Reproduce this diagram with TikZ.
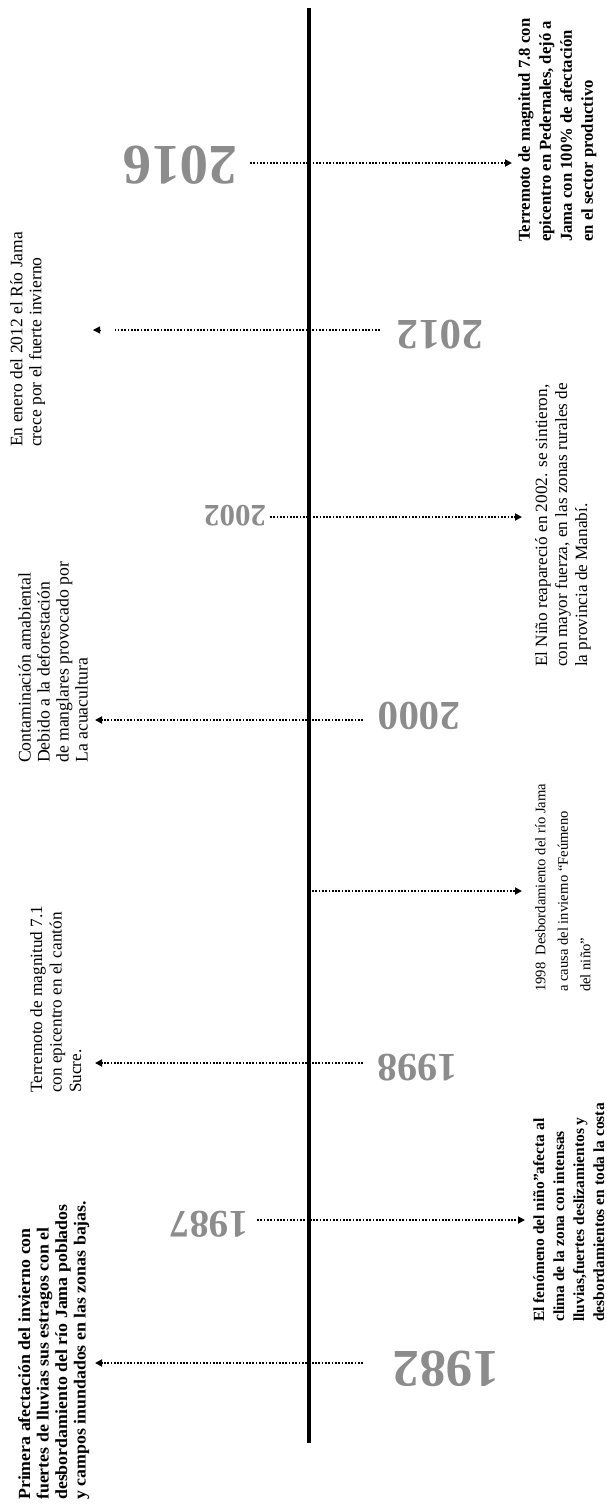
\documentclass[tikz,border=0pt]{standalone}
\usepackage{fontspec}
\setmainfont{Liberation Serif}
\newfontfamily\wideserif[FakeStretch=1.05]{Liberation Serif}
\usetikzlibrary{arrows.meta}
\definecolor{yeargray}{HTML}{8C8C8C}
\begin{document}
\begin{tikzpicture}[x=1pt,y=-1pt,
  yearlbl/.style={text=yeargray, font=\bfseries\fontsize{#1}{#1}\selectfont, rotate=180, inner sep=0pt},
  evt/.style={rotate=90, anchor=north west, inner sep=0pt, align=left, text=black},
  dotline/.style={line width=2.1pt, dash pattern=on 1.7pt off 1.6pt},
  dotarrow/.style={dotline, -{Triangle[length=7pt,width=7pt]}},
  lonetip/.style={line width=0.5pt, -{Triangle[length=7pt,width=7pt]}},
  mainline/.style={line width=4.5pt, black}]
\useasboundingbox (0,0) rectangle (607,1508);

% main line
\coordinate (top) at (309,8);
\coordinate (bot) at (309,1443);
\draw[mainline] (top) -- (bot);

% years
\node[yearlbl=57] (y2016) at (180,165) {2016};
\node[yearlbl=43] (y2012) at (440,335) {2012};
\node[yearlbl=31] (y2002) at (235,516) {2002};
\node[yearlbl=41] (y2000) at (419,716) {2000};
\node[yearlbl=40] (y1998) at (417,1068) {1998};
\node[yearlbl=39] (y1987) at (209,1224) {1987};
\node[yearlbl=53] (y1982) at (446,1369) {1982};

% texts
\node[evt, font=\bfseries\fontsize{16.7}{21}\selectfont] (t2016) at (518,242)
  {Terremoto de magnitud 7.8 con\\epicentro en Pedernales, dejó a\\Jama con 100\% de afectación\\en el sector productivo};
\node[evt, font=\fontsize{17.5}{19}\selectfont] (t2012) at (10,447)
  {En enero del 2012 el Río Jama\\crece por el fuerte invierno};
\node[evt, font=\fontsize{17.2}{20}\selectfont] (t2002) at (535,667)
  {El Niño reapareció en 2002. se sintieron,\\con mayor fuerza, en las zonas rurales de\\la provincia de Manabí.};
\node[evt, font=\fontsize{17.7}{19}\selectfont] (t2000) at (18,763)
  {Contaminación amabiental\\Debido a la deforestación\\de manglares provocado por\\La acuacultura};
\node[evt, font=\fontsize{14.6}{22.5}\selectfont] (t1998r) at (535,992)
  {1998\ \ Desbordamiento del río Jama\\a causa del invierno “Feúmeno\\del niño”};
\node[evt, font=\fontsize{17.2}{19.5}\selectfont] (t1998) at (30,1093)
  {Terremoto de magnitud 7.1\\con epicentro en el cantón\\Sucre.};
\node[evt, font=\bfseries\fontsize{15.5}{20}\selectfont] (t1987) at (533,1322)
  {El fenómeno del niño”afecta al\\clima de la zona con intensas\\lluvias,fuertes deslizamientos y\\desbordamientos en toda la costa};
\node[evt, font=\wideserif\bfseries\fontsize{17}{18.5}\selectfont] (t1982) at (18,1500)
  {Primera afectación del invierno con\\fuertes de lluvias sus estragos con el\\desbordamiento del río Jama poblados\\y campos inundados en las zonas bajas.};

% connectors
\coordinate (s2016) at (250,163); \coordinate (e2016) at (512,163);
\draw[dotarrow] (s2016) -- (e2016);

\coordinate (s2012) at (380,330); \coordinate (e2012) at (115,330);
\draw[dotline] (s2012) -- (e2012);
\coordinate (h2012a) at (101,330); \coordinate (h2012b) at (93,330);
\draw[lonetip] (h2012a) -- (h2012b);

\coordinate (s2002) at (270,517); \coordinate (e2002) at (522,517);
\draw[dotarrow] (s2002) -- (e2002);

\coordinate (s2000) at (363,720); \coordinate (e2000) at (95,720);
\draw[dotarrow] (s2000) -- (e2000);

\coordinate (s1998r) at (312,891); \coordinate (e1998r) at (522,891);
\draw[dotarrow] (s1998r) -- (e1998r);

\coordinate (s1998) at (363,1063); \coordinate (e1998) at (95,1063);
\draw[dotarrow] (s1998) -- (e1998);

\coordinate (s1987) at (257,1220); \coordinate (e1987) at (525,1220);
\draw[dotarrow] (s1987) -- (e1987);

\coordinate (s1982) at (363,1363); \coordinate (e1982) at (95,1363);
\draw[dotarrow] (s1982) -- (e1982);
\end{tikzpicture}
\end{document}
